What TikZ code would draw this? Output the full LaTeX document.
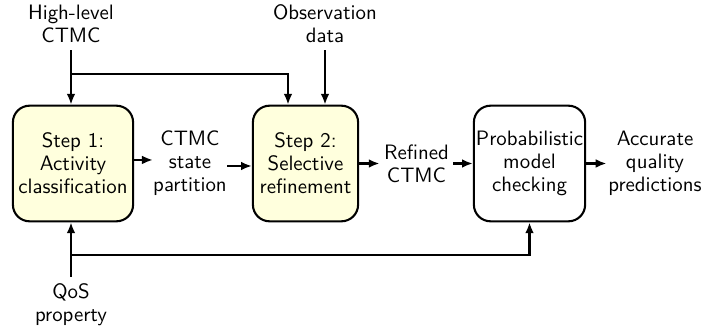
\documentclass[tikz,border=0pt]{standalone}
\usetikzlibrary{arrows.meta,calc}
\definecolor{stepfill}{RGB}{255,255,221}
\begin{document}
\begin{tikzpicture}[x=0.48pt,y=-0.48pt,
  every node/.style={font=\sffamily\fontsize{10}{11}\selectfont, align=center},
  stepbox/.style={draw, line width=1pt, rounded corners=8pt, fill=stepfill,
    minimum height=55.5pt, inner sep=1pt},
  checkbox/.style={draw, line width=1pt, rounded corners=8pt, fill=white,
    minimum height=55.5pt, inner sep=1pt},
  txt/.style={inner ysep=3.33pt, inner xsep=2pt},
  arr/.style={line width=1pt, -{Latex[length=5.2pt,width=4.2pt]}}]
\useasboundingbox (0,0) rectangle (704,332);

% processing steps
\node[stepbox, minimum width=57.7pt] (s1) at (73,163.5) {Step 1:\\Activity\\classification};
\node[stepbox, minimum width=50.5pt] (s2) at (305.5,163.5) {Step 2:\\Selective\\refinement};
\node[checkbox, minimum width=51.4pt] (pmc) at (529.5,163.5) {Probabilistic\\model\\checking};

% entry points on the upper edge of step 2
\coordinate (in1) at ($(s2.north)+(-17.5,0)$);
\coordinate (in2) at ($(s2.north)+(19.5,0)$);

% inputs and intermediate artefacts
\node[txt] (hl) at (71,24) {High-level\\CTMC};
\node[txt] (obs) at (in2 |- hl) {Observation\\data};
\node[txt, inner xsep=0pt] (csp) at (190,163.5) {CTMC\\state\\partition};
\node[txt] (ref) at (416.5,163.5) {Refined\\CTMC};
\node[txt, inner xsep=0.7pt] (acc) at (655,163.5) {Accurate\\quality\\predictions};
\node[txt] (qos) at (71,305) {QoS\\property};

% branch points
\coordinate (hlsplit) at (71,74);
\coordinate (qsplit) at (71,255);

% top inputs
\draw[arr] (hl.south) -- (hl.south |- s1.north);
\draw[arr] (hlsplit) -| (in1);
\draw[arr] (obs.south) -- (in2);

% main flow
\draw[arr] ([yshift=1.7pt]s1.east) -- ([yshift=1.7pt]s1.east -| csp.west);
\draw[arr] ([yshift=-1.2pt]csp.east) -- ([yshift=-1.2pt]csp.east -| s2.west);
\draw[arr] (s2.east) -- (ref.west);
\draw[arr] (ref.east) -- (pmc.west);
\draw[arr] (pmc.east) -- (acc.west);

% property input
\draw[arr] (qos.north) -- (qos.north |- s1.south);
\draw[arr] (qsplit) -| (pmc.south);
\end{tikzpicture}
\end{document}
